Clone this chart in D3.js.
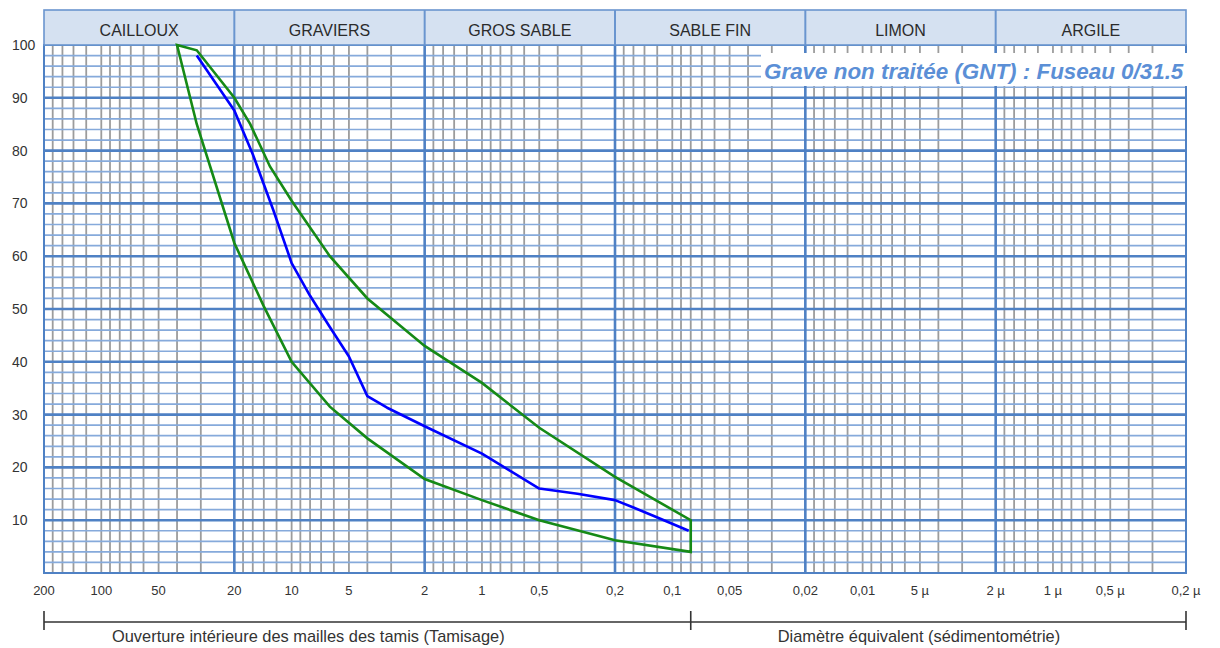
<!DOCTYPE html>
<html>
<head>
<meta charset="utf-8">
<script src="https://cdn.jsdelivr.net/npm/d3@7"></script>
<style>
  html, body { margin: 0; padding: 0; background: #ffffff; }
  svg { display: block; }
  text { font-family: "Liberation Sans", Arial, sans-serif; }
</style>
</head>
<body>
<svg id="chart" width="1220" height="648"></svg>
<script>
// ---------- data ----------
const sectionNames  = ["CAILLOUX", "GRAVIERS", "GROS SABLE", "SABLE FIN", "LIMON", "ARGILE"];
const sectionBounds = [200, 20, 2, 0.2, 0.02, 0.002, 0.0002];

const tickValues = [200, 100, 50, 20, 10, 5, 2, 1, 0.5, 0.2, 0.1, 0.05, 0.02, 0.01, 0.005, 0.002, 0.001, 0.0005, 0.0002];
const tickLabels = ["200", "100", "50", "20", "10", "5", "2", "1", "0,5", "0,2", "0,1", "0,05", "0,02", "0,01", "5 µ", "2 µ", "1 µ", "0,5 µ", "0,2 µ"];
const yTicks = [10, 20, 30, 40, 50, 60, 70, 80, 90, 100];

const minorMultipliers = [0.9, 0.8, 0.7, 0.6, 0.5, 0.45, 0.4, 0.35, 0.3, 0.25, 0.2, 0.15];

// Fuseau limits (mm, % passing)
const upperSizes   = [40, 31.5, 20, 16.5, 13, 10, 6.3, 4, 2, 1, 0.5, 0.2, 0.08];
const upperPassing = [100, 99, 90, 85, 77, 70.5, 60, 52, 43, 36, 27.5, 18.2, 10];
const lowerSizes   = [40, 31.5, 20, 14, 10, 6.3, 4, 2, 1, 0.5, 0.2, 0.08];
const lowerPassing = [100, 85, 62.5, 50.5, 40, 31.5, 25.5, 17.8, 13.8, 10, 6.2, 4];

// Sample curve
const sampleSizes   = [31.5, 25, 20, 16, 12.5, 10, 8, 6.3, 5, 4, 3.15, 2, 1, 0.5, 0.315, 0.2, 0.16, 0.125, 0.082];
const samplePassing = [98, 92.7, 87.6, 79.3, 68.8, 58.7, 52.5, 46.6, 41, 33.5, 31.3, 27.8, 22.6, 16, 15, 13.8, 12.4, 10.8, 8];

const bracketBounds   = [200, 0.08, 0.0002];
const bracketCaptions = ["Ouverture intérieure des mailles des tamis (Tamisage)", "Diamètre équivalent (sédimentométrie)"];

const titleText = "Grave non traitée (GNT) : Fuseau 0/31.5";

// ---------- layout ----------
const L = 44, R = 1186, T = 45, B = 573;
const x = d3.scaleLog().domain([200, 0.0002]).range([L, R]);
const y = d3.scaleLinear().domain([0, 100]).range([B, T]);

const svg = d3.select("#chart");
const blueMajor = "#4f81c4", blueMinor = "#86aadb", gray = "#9c9c9c";

// vertical minor gray lines
const minorX = [];
sectionBounds.slice(0, -1).forEach(d => minorMultipliers.forEach(m => minorX.push(d * m)));
svg.append("g").selectAll("line").data(minorX).join("line")
  .attr("x1", d => x(d)).attr("x2", d => x(d))
  .attr("y1", T).attr("y2", B)
  .attr("stroke", gray).attr("stroke-width", 1.8);

// horizontal lines
const hMinor = d3.range(2, 100, 2).filter(v => v % 10 !== 0);
svg.append("g").selectAll("line").data(hMinor).join("line")
  .attr("x1", L).attr("x2", R).attr("y1", d => y(d)).attr("y2", d => y(d))
  .attr("stroke", blueMinor).attr("stroke-width", 1.7);
svg.append("g").selectAll("line").data(d3.range(10, 100, 10)).join("line")
  .attr("x1", L).attr("x2", R).attr("y1", d => y(d)).attr("y2", d => y(d))
  .attr("stroke", blueMajor).attr("stroke-width", 2.6);

// vertical major lines
svg.append("g").selectAll("line").data(sectionBounds.slice(1, -1)).join("line")
  .attr("x1", d => x(d)).attr("x2", d => x(d))
  .attr("y1", T).attr("y2", B)
  .attr("stroke", blueMajor).attr("stroke-width", 2.6);

// border
svg.append("rect").attr("x", L).attr("y", T).attr("width", R - L).attr("height", B - T)
  .attr("fill", "none").attr("stroke", blueMajor).attr("stroke-width", 2);

// header
const HT = 10;
svg.append("rect").attr("x", L).attr("y", HT).attr("width", R - L).attr("height", T - HT)
  .attr("fill", "#d5e1f1").attr("stroke", "#6a95cf").attr("stroke-width", 1.6);
svg.append("g").selectAll("line").data(sectionBounds.slice(1, -1)).join("line")
  .attr("x1", d => x(d)).attr("x2", d => x(d)).attr("y1", HT).attr("y2", T)
  .attr("stroke", "#6a95cf").attr("stroke-width", 2);
svg.append("g").selectAll("text").data(sectionNames).join("text")
  .attr("x", (d, i) => (x(sectionBounds[i]) + x(sectionBounds[i + 1])) / 2)
  .attr("y", 36).attr("text-anchor", "middle")
  .attr("font-size", 16).attr("fill", "#2b2b2b").text(d => d);

// title box
svg.append("rect").attr("x", 761).attr("y", 53).attr("width", 427).attr("height", 33).attr("fill", "#ffffff");
svg.append("text").attr("x", 764).attr("y", 78.5)
  .attr("font-size", 22.4).attr("font-weight", "bold").attr("font-style", "italic")
  .attr("fill", "#5b8fd6").text(titleText);

// fuseau polygon
const upperPts = upperSizes.map((s, i) => [s, upperPassing[i]]);
const lowerPts = lowerSizes.map((s, i) => [s, lowerPassing[i]]);
const polyPts = upperPts.concat(lowerPts.slice().reverse());
const line = d3.line().x(d => x(d[0])).y(d => y(d[1]));
svg.append("path").attr("d", line(polyPts) + "Z")
  .attr("fill", "none").attr("stroke", "#168a16").attr("stroke-width", 2.6).attr("stroke-linejoin", "miter");

// sample curve
const samplePts = sampleSizes.map((s, i) => [s, samplePassing[i]]);
svg.append("path").attr("d", line(samplePts))
  .attr("fill", "none").attr("stroke", "#0000ff").attr("stroke-width", 2.6).attr("stroke-linejoin", "round");

// y labels
svg.append("g").selectAll("text").data(yTicks).join("text")
  .attr("x", 12).attr("y", d => y(d) + 5)
  .attr("font-size", 14).attr("fill", "#333").text(d => d);

// x labels
svg.append("g").selectAll("text").data(tickValues).join("text")
  .attr("x", d => x(d)).attr("y", 595).attr("text-anchor", "middle")
  .attr("font-size", 13).attr("fill", "#333").text((d, i) => tickLabels[i]);

// bracket
const by = 622;
svg.append("line").attr("x1", x(bracketBounds[0])).attr("x2", x(bracketBounds[2]))
  .attr("y1", by).attr("y2", by).attr("stroke", "#333").attr("stroke-width", 1.6);
svg.append("g").selectAll("line").data(bracketBounds).join("line")
  .attr("x1", d => x(d)).attr("x2", d => x(d)).attr("y1", by - 11).attr("y2", by + 8)
  .attr("stroke", "#333").attr("stroke-width", 1.6);
const captionOffsets = [68, 87];
svg.append("g").selectAll("text").data(bracketCaptions).join("text")
  .attr("x", (d, i) => x(bracketBounds[i]) + captionOffsets[i])
  .attr("y", 642).attr("text-anchor", "start")
  .attr("font-size", 16.4).attr("fill", "#333").text(d => d);
</script>
</body>
</html>
